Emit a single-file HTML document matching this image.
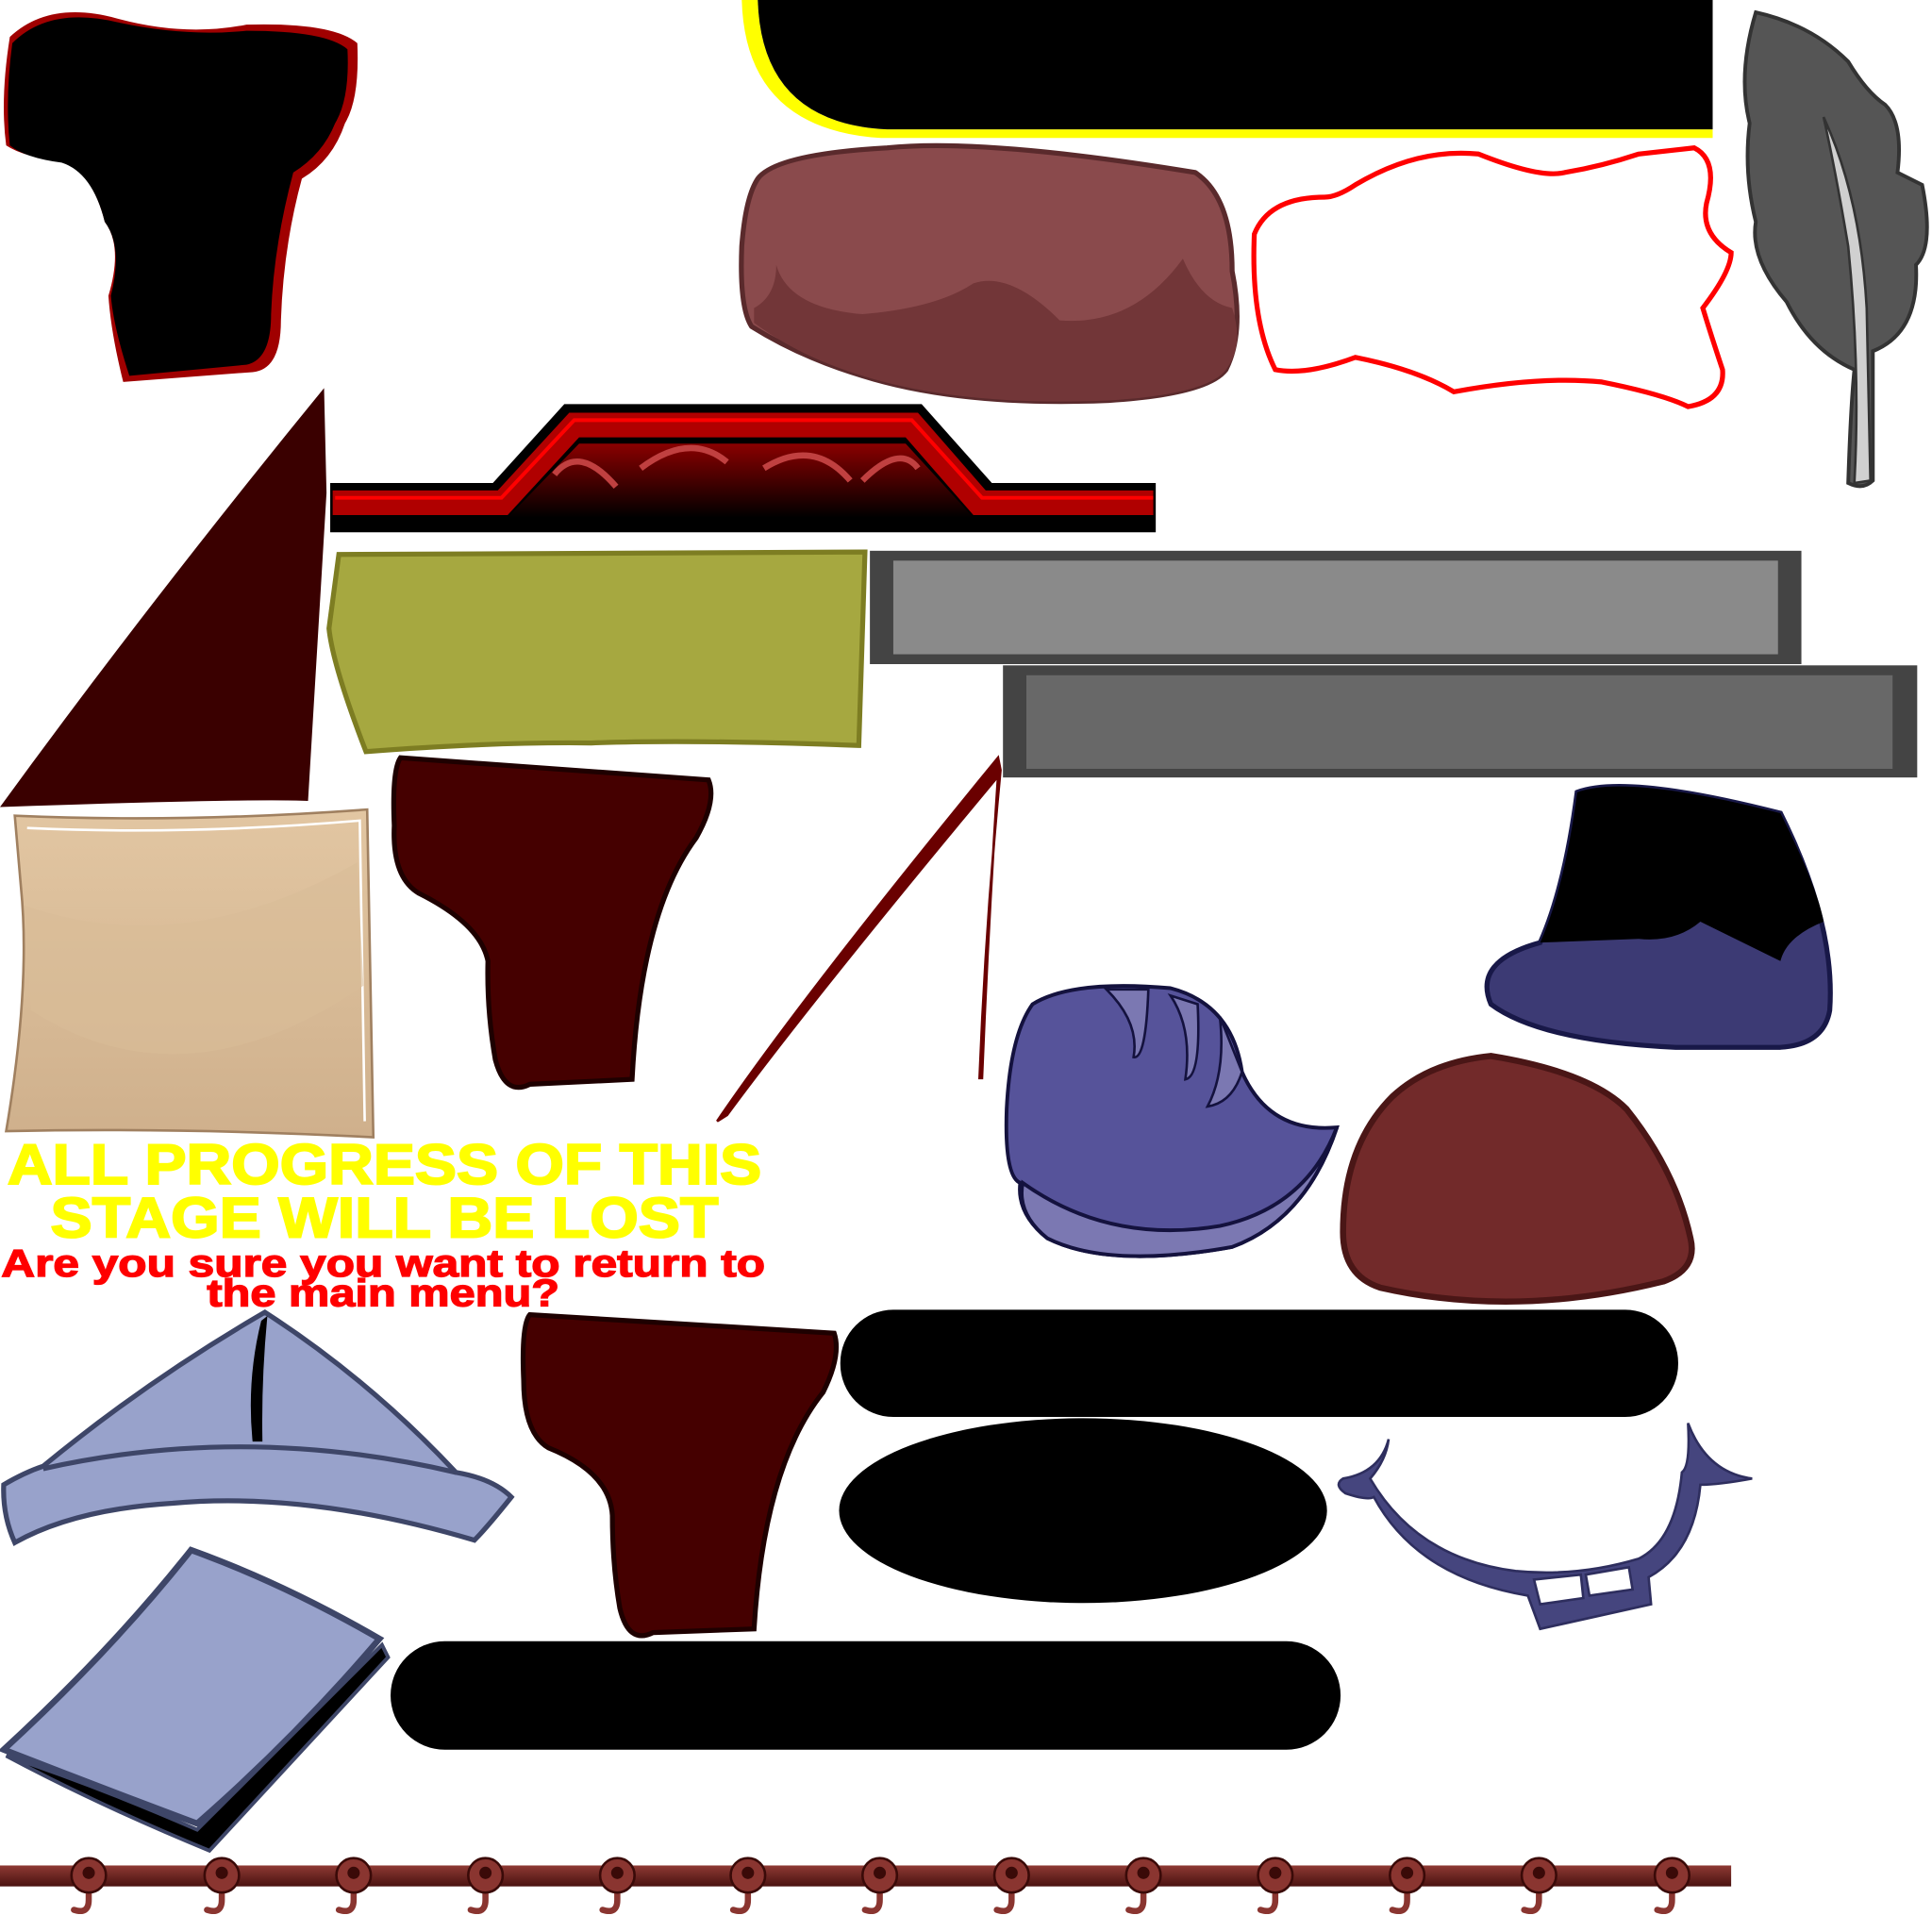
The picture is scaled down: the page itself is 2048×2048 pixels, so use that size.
<!DOCTYPE html>
<html><head><meta charset="utf-8"><style>html,body{margin:0;padding:0;background:#fff}svg{display:block}</style></head>
<body>
<svg width="2048" height="2048" viewBox="0 0 1568 1568" xmlns="http://www.w3.org/2000/svg">
<defs>
<linearGradient id="tan" x1="0" y1="0" x2="0" y2="1"><stop offset="0" stop-color="#e2c6a2"/><stop offset="1" stop-color="#cfb08c"/></linearGradient>
<linearGradient id="orn" x1="0" y1="0" x2="0" y2="1"><stop offset="0" stop-color="#8a0000"/><stop offset="1" stop-color="#000"/></linearGradient>
<linearGradient id="bar" x1="0" y1="0" x2="0" y2="1"><stop offset="0" stop-color="#8e3a34"/><stop offset="1" stop-color="#4a1210"/></linearGradient>
</defs>

<path d="M8 30 Q40 0 95 15 Q150 30 200 20 Q270 18 290 35 Q292 80 280 100 Q270 130 245 145 Q230 200 228 260 Q228 300 205 302 L100 310 Q90 270 88 240 Q100 200 85 180 Q75 140 50 130 Q20 128 5 118 Q0 80 8 30Z" fill="#a00000"/>
<path d="M10 35 Q40 5 95 18 Q150 30 200 25 Q265 25 282 40 Q284 80 272 100 Q262 125 238 140 Q222 200 220 255 Q220 292 200 296 L105 305 Q92 265 90 240 Q100 200 85 180 Q75 140 50 132 Q20 128 8 118 Q4 80 10 35Z" fill="#000"/>

<path d="M602 0 L615 0 Q618 100 720 105 L1390 105 L1390 112 L715 112 Q605 105 602 0Z" fill="#ffff00"/>
<path d="M615 0 L1390 0 L1390 105 L720 105 Q618 100 615 0Z" fill="#000"/>

<path d="M615 145 Q630 125 720 120 Q800 112 970 140 Q1000 160 1000 220 Q1010 270 995 300 Q980 320 900 325 Q780 330 700 305 Q650 290 610 265 Q600 250 602 200 Q605 160 615 145Z" fill="#8a4a4c" stroke="#5a2a2c" stroke-width="4"/>
<path d="M612 250 Q630 240 630 215 Q640 250 700 255 Q760 250 790 230 Q820 220 860 260 Q920 265 960 210 Q975 245 1000 250 Q1010 280 995 300 Q980 320 900 325 Q780 330 700 305 Q650 290 612 262Z" fill="#723638"/>

<path d="M1075 160 Q1030 160 1018 190 Q1015 260 1035 300 Q1060 305 1100 290 Q1150 300 1180 318 Q1250 305 1300 310 Q1350 320 1370 330 Q1400 325 1398 300 Q1388 270 1382 250 Q1405 220 1405 205 Q1380 190 1385 165 Q1395 130 1375 120 L1330 125 Q1300 135 1270 140 Q1250 145 1200 125 Q1150 120 1100 150 Q1085 160 1075 160Z" fill="none" stroke="#f00" stroke-width="4"/>

<path d="M1425 10 Q1470 20 1500 50 Q1515 75 1530 85 Q1545 100 1540 140 L1560 150 Q1570 200 1555 215 Q1558 270 1520 285 L1520 390 Q1512 398 1500 392 Q1502 330 1505 300 Q1470 285 1450 245 Q1420 210 1425 180 Q1415 140 1420 100 Q1410 60 1425 10Z" fill="#555" stroke="#333" stroke-width="3"/>
<path d="M1480 95 Q1510 160 1515 250 L1518 390 L1505 392 Q1510 300 1500 200 Q1490 140 1480 95Z" fill="#d0d0d0" stroke="#333" stroke-width="2"/>

<path d="M263 315 L265 400 L250 650 Q200 648 0 655 Q120 490 263 315Z" fill="#3a0000"/>

<path d="M268 392 L400 392 L458 328 L748 328 L805 392 L938 392 L938 432 L268 432Z" fill="#000"/>
<path d="M270 398 L404 398 L462 335 L745 335 L800 398 L936 398 L936 418 L790 418 L735 355 L470 355 L412 418 L270 418Z" fill="#b00000"/>
<path d="M272 404 L407 404 L466 341 L740 341 L797 404 L936 404" fill="none" stroke="#ff0000" stroke-width="3"/>
<path d="M470 360 L735 360 L790 420 L412 420Z" fill="url(#orn)"/>
<path d="M450 385 Q470 360 500 395 M520 380 Q560 350 590 375 M620 380 Q660 355 690 390 M700 390 Q730 360 745 380" fill="none" stroke="#c04040" stroke-width="5"/>

<path d="M275 450 L702 448 L697 605 Q560 600 480 603 Q400 602 297 610 Q270 540 267 510Z" fill="#a6a840" stroke="#7d7d22" stroke-width="4"/>

<rect x="706" y="447" width="756" height="92" fill="#444"/>
<rect x="725" y="455" width="718" height="76" fill="#8a8a8a"/>
<rect x="814" y="540" width="742" height="91" fill="#444"/>
<rect x="833" y="548" width="703" height="76" fill="#686868"/>

<path d="M582 910 Q650 810 810 615 L812 625 Q800 750 795 875 L797 875 Q802 750 810 630 Q660 810 590 905Z" fill="#6a0000" stroke="#6a0000" stroke-width="2"/>

<path d="M12 662 Q150 668 298 657 L303 923 Q150 915 5 918 Q25 800 17 720Z" fill="url(#tan)" stroke="#a08060" stroke-width="2"/>
<path d="M22 672 Q150 678 292 666 L296 910" fill="none" stroke="#fff" stroke-width="2"/>
<path d="M20 735 Q150 780 290 700 L295 800 Q150 900 25 820Z" fill="#d8bc98" opacity="0.6"/>

<path d="M325 615 L575 633 Q582 650 565 680 Q520 740 513 876 L430 880 Q410 890 402 860 Q395 820 396 780 Q390 750 340 725 Q318 712 320 670 Q318 625 325 615Z" fill="#450000" stroke="#1e0000" stroke-width="4"/>

<path d="M1280 643 Q1320 628 1445 660 Q1490 750 1485 820 Q1480 848 1445 850 L1360 850 Q1250 845 1210 815 Q1195 780 1250 765 Q1270 720 1280 643Z" fill="#3c3a74" stroke="#181848" stroke-width="4"/>
<path d="M1280 643 Q1320 628 1445 660 Q1475 720 1480 748 Q1450 760 1445 780 L1380 748 Q1360 765 1330 762 L1250 765 Q1270 720 1280 643Z" fill="#000"/>

<path d="M838 815 Q870 795 950 802 Q1000 815 1008 870 Q1030 920 1085 915 Q1060 990 1000 1012 Q900 1030 850 1005 Q825 985 828 960 Q815 955 817 900 Q820 840 838 815Z" fill="#56539a" stroke="#14123e" stroke-width="3"/>
<path d="M830 960 Q900 1010 990 995 Q1060 980 1085 915 Q1060 990 1000 1012 Q900 1030 850 1005 Q825 985 830 960Z" fill="#7b78b2" stroke="#14123e" stroke-width="3"/>
<path d="M898 803 Q925 830 920 858 Q930 860 932 803Z M950 808 Q968 835 962 876 Q975 874 972 815Z M990 825 Q995 870 980 898 Q1000 895 1008 870Z" fill="#7b78b2" stroke="#14123e" stroke-width="2"/>

<path d="M1210 857 Q1290 870 1320 900 Q1360 950 1372 1005 Q1378 1030 1350 1040 Q1230 1070 1120 1045 Q1090 1035 1090 1000 Q1090 930 1130 890 Q1160 862 1210 857Z" fill="#722a2a" stroke="#4a1616" stroke-width="5"/>

<g font-family="Liberation Sans, sans-serif" font-weight="bold" text-anchor="middle">
<text x="312" y="961" font-size="46" fill="#ffff00" textLength="612" lengthAdjust="spacingAndGlyphs" stroke="#ffff00" stroke-width="1.5">ALL PROGRESS OF THIS</text>
<text x="312" y="1004" font-size="46" fill="#ffff00" textLength="542" lengthAdjust="spacingAndGlyphs" stroke="#ffff00" stroke-width="1.5">STAGE WILL BE LOST</text>
<text x="311" y="1036" font-size="31" fill="#ff0000" textLength="620" lengthAdjust="spacingAndGlyphs" stroke="#ff0000" stroke-width="1">Are you sure you want to return to</text>
<text x="311" y="1060" font-size="31" fill="#ff0000" textLength="286" lengthAdjust="spacingAndGlyphs" stroke="#ff0000" stroke-width="1">the main menu?</text>
</g>

<path d="M215 1065 Q300 1120 370 1195 Q400 1200 415 1215 Q395 1240 385 1250 Q250 1210 140 1220 Q60 1225 12 1252 Q2 1230 3 1205 Q20 1195 35 1190 Q120 1120 215 1065Z" fill="#98a2cb" stroke="#3e4668" stroke-width="4"/>
<path d="M35 1192 Q200 1155 370 1195" fill="none" stroke="#3e4668" stroke-width="4"/>
<path d="M212 1072 Q200 1120 205 1170 L213 1170 Q212 1120 217 1068Z" fill="#000"/>

<path d="M155 1258 Q230 1285 308 1330 Q240 1410 160 1480 Q80 1450 3 1420 Q90 1340 155 1258Z" fill="#98a2cb" stroke="#3e4668" stroke-width="5"/>
<path d="M310 1335 L315 1345 L170 1502 Q80 1465 5 1425 Q80 1450 160 1485 Z" fill="#000" stroke="#3e4668" stroke-width="3"/>

<path d="M430 1067 L677 1082 Q683 1100 668 1130 Q620 1190 612 1322 L530 1325 Q510 1335 503 1305 Q497 1270 497 1230 Q495 1195 445 1175 Q425 1163 425 1120 Q423 1075 430 1067Z" fill="#450000" stroke="#1e0000" stroke-width="4"/>

<rect x="682" y="1063" width="680" height="87" rx="43" fill="#000"/>
<ellipse cx="879" cy="1226" rx="198" ry="75" fill="#000"/>
<rect x="317" y="1332" width="771" height="88" rx="44" fill="#000"/>

<path d="M1127 1168 Q1120 1195 1090 1200 Q1082 1205 1092 1212 Q1110 1218 1115 1215 Q1150 1280 1240 1295 L1250 1322 L1340 1302 L1338 1280 Q1375 1260 1380 1205 Q1395 1205 1422 1200 Q1385 1195 1370 1155 Q1372 1190 1365 1195 Q1360 1250 1330 1265 Q1280 1280 1230 1275 Q1150 1265 1112 1200 Q1125 1185 1127 1168Z" fill="#45457e" stroke="#2e2e5e" stroke-width="2"/>
<path d="M1245 1282 L1283 1278 L1285 1297 L1250 1302Z M1287 1278 L1322 1272 L1325 1290 L1290 1295Z" fill="#fff" stroke="#2e2e5e" stroke-width="2"/>

<rect x="0" y="1514" width="1405" height="17" fill="url(#bar)"/>
<g fill="none" stroke="#8a3530" stroke-width="5" stroke-linecap="round">
<path d="M72 1526 V1542 Q72 1554 60 1550"/><path d="M180 1526 V1542 Q180 1554 168 1550"/><path d="M287 1526 V1542 Q287 1554 275 1550"/><path d="M394 1526 V1542 Q394 1554 382 1550"/><path d="M501 1526 V1542 Q501 1554 489 1550"/><path d="M607 1526 V1542 Q607 1554 595 1550"/><path d="M714 1526 V1542 Q714 1554 702 1550"/><path d="M821 1526 V1542 Q821 1554 809 1550"/><path d="M928 1526 V1542 Q928 1554 916 1550"/><path d="M1035 1526 V1542 Q1035 1554 1023 1550"/><path d="M1142 1526 V1542 Q1142 1554 1130 1550"/><path d="M1249 1526 V1542 Q1249 1554 1237 1550"/><path d="M1357 1526 V1542 Q1357 1554 1345 1550"/>
</g>
<g fill="#8a3530" stroke="#3a0a08" stroke-width="2">
<circle cx="72" cy="1522" r="14"/><circle cx="180" cy="1522" r="14"/><circle cx="287" cy="1522" r="14"/><circle cx="394" cy="1522" r="14"/><circle cx="501" cy="1522" r="14"/><circle cx="607" cy="1522" r="14"/><circle cx="714" cy="1522" r="14"/><circle cx="821" cy="1522" r="14"/><circle cx="928" cy="1522" r="14"/><circle cx="1035" cy="1522" r="14"/><circle cx="1142" cy="1522" r="14"/><circle cx="1249" cy="1522" r="14"/><circle cx="1357" cy="1522" r="14"/>
</g>
<g fill="#3a0a08">
<circle cx="72" cy="1520" r="5"/><circle cx="180" cy="1520" r="5"/><circle cx="287" cy="1520" r="5"/><circle cx="394" cy="1520" r="5"/><circle cx="501" cy="1520" r="5"/><circle cx="607" cy="1520" r="5"/><circle cx="714" cy="1520" r="5"/><circle cx="821" cy="1520" r="5"/><circle cx="928" cy="1520" r="5"/><circle cx="1035" cy="1520" r="5"/><circle cx="1142" cy="1520" r="5"/><circle cx="1249" cy="1520" r="5"/><circle cx="1357" cy="1520" r="5"/>
</g>
</svg>
</body></html>
